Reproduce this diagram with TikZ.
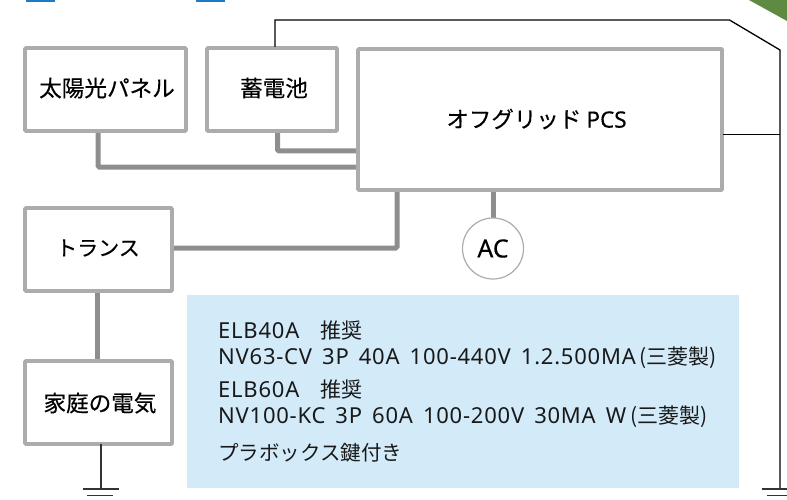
\documentclass[tikz,border=0pt]{standalone}
\usepackage{fontspec}
\setmainfont{Noto Sans}[LetterSpace=3.5,WordSpace=1.55]
\newfontfamily\jp{Noto Sans CJK JP}
\newfontfamily\jpm[FakeBold=0.3]{Noto Sans CJK JP}
\newfontfamily\lam[FakeBold=0.3,WordSpace=1.5]{Noto Sans}
\definecolor{boxgray}{HTML}{ABACAE}
\definecolor{wiregray}{HTML}{8E8E8E}
\definecolor{panelblue}{HTML}{D3EBF9}
\definecolor{leafgreen}{HTML}{5F8A42}
\definecolor{linkblue}{HTML}{1F78C8}
\tikzset{
  unitbox/.style={draw=boxgray,line width=3.6pt,fill=white,rounded corners=0.8pt,inner sep=0pt,outer sep=0pt,anchor=north west},
  unitlabel/.style={inner sep=0pt,font=\fontsize{22.6}{26}\selectfont\jpm,text=black},
  wire/.style={draw=wiregray,line width=5pt,rounded corners=1.5pt},
  thin wire/.style={draw=black,line width=1.3pt},
  ground/.style={draw=black!80,line width=1.3pt},
  note/.style={anchor=west,inner sep=0pt,font=\fontsize{22}{26}\selectfont,text=black!90},
}
\newcommand{\jpn}[1]{{\fontsize{21}{26}\selectfont\jp #1}}
\begin{document}
\begin{tikzpicture}[x=1pt,y=-1pt]
\useasboundingbox (0,0) rectangle (787,500);
\fill[linkblue] (26,0) rectangle (55,1.6);
\fill[linkblue] (196,0) rectangle (225,1.6);
\fill[leafgreen] (749,0) -- (787,0) -- (787,21) -- cycle;
\fill[panelblue] (186.5,295) rectangle (739,488);

\coordinate (topA) at (275,20);
\coordinate (topB) at (729.5,20);
\coordinate (topC) at (780,50);
\coordinate (gndR) at (780,488);
\coordinate (gndL) at (101,488);

\draw[wire] (98,131) |- (358,167);
\draw[wire] (277.5,131) |- (358,151);
\draw[wire] (397,190) |- (172,248);
\draw[wire] (97,291) -- (97,359);
\draw[wire] (493,190) -- (493,219);

\node[unitbox,minimum width=161pt,minimum height=83pt] (pv) at (25,48) {};
\node[unitlabel] (pvt) at (107,88) {太陽光パネル};
\node[unitbox,minimum width=130pt,minimum height=83pt] (bat) at (207,48) {};
\node[unitlabel] (batt) at (274,88) {蓄電池};
\node[unitbox,minimum width=364pt,minimum height=141pt] (pcs) at (358,49) {};
\node[unitlabel,font=\fontsize{22.5}{24}\selectfont\jpm] (pcst) at (536.5,119) {オフグリッド {\lam PCS}};
\node[unitbox,minimum width=147pt,minimum height=83pt] (tr) at (25,208) {};
\node[unitlabel,font=\fontsize{21}{24}\selectfont\jpm] (trt) at (98,248) {トランス};
\node[unitbox,minimum width=147pt,minimum height=83pt] (home) at (25,361) {};
\node[unitlabel] (homet) at (100,403) {家庭の電気};
\node[circle,draw=boxgray,line width=1.2pt,fill=white,minimum size=61pt,inner sep=0pt,font=\fontsize{25}{28}\selectfont\lam] (ac) at (493,248.5) {AC};

\draw[thin wire] (275,47) -- (topA) -- (topB) -- (topC) -- (gndR);
\draw[thin wire] (723,134.5) -- (780,134.5);
\draw[ground] (101,444) -- (gndL);
\draw[ground] (83,489) -- (119,489);
\draw[ground] (87,495.7) -- (113,495.7);
\draw[ground] (761.5,489) -- (787,489);
\draw[ground] (767,495.7) -- (787,495.7);

\node[note] (n1) at (218,331) {ELB40A\hspace{21pt}\jpn{推奨}};
\node[note] (n2) at (218,358) {NV63-CV 3P 40A 100-440V 1.2.500MA\jpn{\hspace{4pt}(三菱製)}};
\node[note] (n3) at (218,390) {ELB60A\hspace{21pt}\jpn{推奨}};
\node[note] (n4) at (218,417) {NV100-KC 3P 60A 100-200V 30MA W\jpn{\hspace{4pt}(三菱製)}};
\node[note,font=\fontsize{20.5}{24}\selectfont\jp] (n5) at (218,453) {プラボックス鍵付き};
\end{tikzpicture}
\end{document}
